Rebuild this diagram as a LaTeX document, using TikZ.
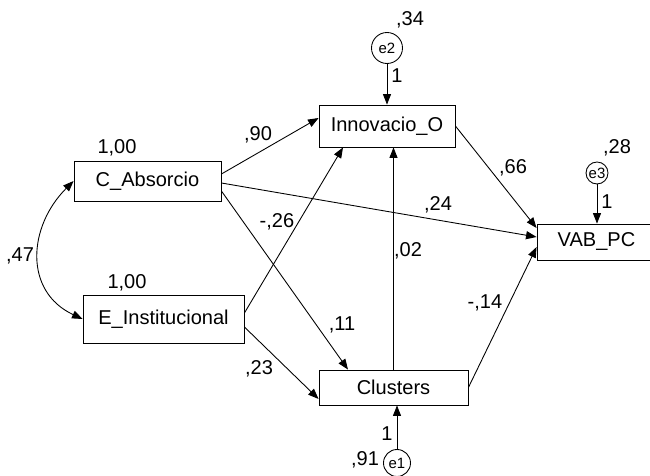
\documentclass[tikz,border=0pt]{standalone}
\usepackage{fontspec}
\setmainfont{Liberation Sans}
\usetikzlibrary{arrows.meta,calc}
\tikzset{
  obs/.style={draw, rectangle, inner sep=0pt},
  err/.style={draw, circle, inner sep=0pt, font=\fontsize{8.5}{10}\selectfont},
  reg/.style={-{Triangle[length=6pt,width=4.6pt]}},
  cov/.style={{Triangle[length=6pt,width=4.6pt]}-{Triangle[length=6pt,width=4.6pt]}}
}

\begin{document}
\begin{tikzpicture}[x=0.02cm, y=-0.02cm, font=\fontsize{11.4}{13}\selectfont, line width=0.5pt]
      \useasboundingbox (0,0) rectangle (650,476);
      \clip (0,0) rectangle (650,476);
      \node[obs, minimum width=2.94cm, minimum height=0.8cm] (ca) at (147.5,181) {C\_Absorcio};
      \node[obs, minimum width=3.22cm, minimum height=0.96cm] (ei) at (163.5,319) {E\_Institucional};
      \node[obs, minimum width=2.72cm, minimum height=0.84cm] (io) at (387,126) {Innovacio\_O};
      \node[obs, minimum width=2.98cm, minimum height=0.7cm] (cl) at (393.5,387.5) {Clusters};
      \node[obs, minimum width=2.38cm, minimum height=0.72cm] (vab) at (596.5,242) {VAB\_PC};
      \node[err, minimum size=0.62cm] (e2) at (387,48) {e2};
      \node[err, minimum size=0.44cm] (e3) at (597,173) {e3};
      \node[err, minimum size=0.54cm] (e1) at (397,463) {e1};
      \draw[reg] ($(ca.east)+(0,-7)$) -- ($(io.west)+(0,-8)$);
      \draw[reg] ($(ca.east)+(0,2)$) -- ($(vab.west)+(0,-5)$);
      \draw[reg] ($(ca.east)+(0,10)$) -- ($(cl.north)+(-45.5,0)$);
      \draw[reg] ($(ei.east)+(0,-6)$) -- ($(io.south)+(-44,0)$);
      \draw[reg] ($(ei.east)+(0,8)$) -- ($(cl.west)+(0,11.5)$);
      \draw[reg] (cl.north) -- (cl.north |- io.south);
      \draw[reg] (cl.east) -- ($(vab.west)+(0,5)$);
      \draw[reg] (io.east) -- ($(vab.west)+(0,-14)$);
      \draw[reg] (e2.south) -- (io.north);
      \draw[reg] (e3.south) -- (e3.south |- vab.north);
      \draw[reg] (e1.north) -- (e1.north |- cl.south);
      \draw[cov] (ca.west) to[out=225, in=155, looseness=1.2] (ei.west);
      \foreach \n/\x/\y/\t in {vca/117/148/{1,00}, vei/127/283/{1,00}, c47/20/256/{,47},
        b90/258/135/{,90}, b24/438/205/{,24}, b26/277/222/{-,26}, b11/342/325/{,11},
        b23/259/369/{,23}, b02/408/251/{,02}, b14/485/303/{-,14}, b66/513/168/{,66},
        ve2/410/20/{,34}, ve3/617/148/{,28}, ve1/365/460/{,91},
        w2/397/76/1, w3/607/202/1, w1/387/434/1} {
	\node[inner sep=0pt] (l\n) at (\x,\y) {\t};
      };
    \end{tikzpicture}
\end{document}
